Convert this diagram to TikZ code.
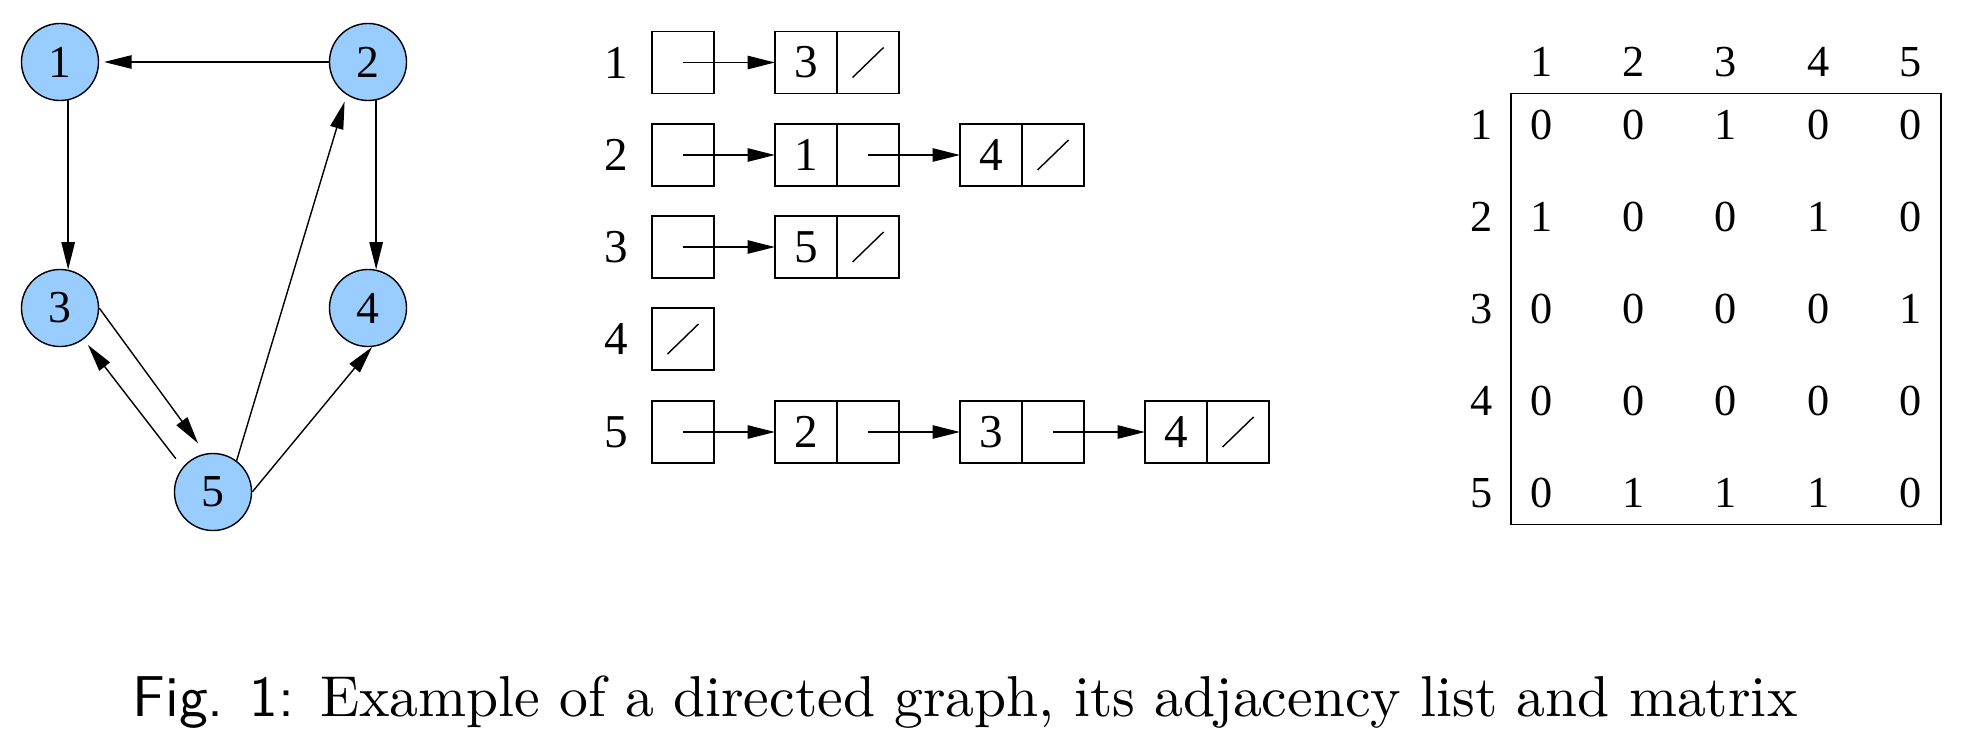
\documentclass[tikz,border=0pt]{standalone}
\usepackage{fontspec}
\usepackage{xcolor}
\usepackage{tikz}
\usetikzlibrary{arrows.meta,positioning,matrix}
\newfontfamily\timesfont{Liberation Serif}
\definecolor{nodeblue}{RGB}{153,204,255}
\newcommand{\graphfont}{\timesfont\fontsize{13pt}{15pt}\selectfont}
\newcommand{\listfont}{\timesfont\fontsize{13.4pt}{16pt}\selectfont}
\newcommand{\matfont}{\timesfont\fontsize{12.6pt}{15pt}\selectfont}

\begin{document}
\begin{tikzpicture}[x=0.01cm, y=-0.01cm, >={Triangle[length=7.8pt,width=3.8pt]},
	vertex/.style={circle, draw, fill=nodeblue, minimum size=0.77cm, inner sep=0pt, font=\graphfont},
	cell/.style={rectangle, draw, minimum width=0.62cm, minimum height=0.62cm, inner sep=0pt, outer sep=0pt, font=\listfont},
	nil/.style={cell, path picture={\draw ([shift={(-0.155cm,-0.15cm)}]path picture bounding box.center) -- ([shift={(0.155cm,0.15cm)}]path picture bounding box.center);}},
	link/.style={->},
	lbl/.style={inner sep=0pt, font=\listfont},
	entry/.style={minimum width=0.62cm, minimum height=0.62cm, inner sep=0pt, font=\matfont}]
	\useasboundingbox (0,0) rectangle (1964,736);
	% directed graph
	\node[vertex] (n1) at (60,62) {1};
	\node[vertex] (n2) at (368,62) {2};
	\node[vertex] (n3) at (60,308) {3};
	\node[vertex] (n4) at (368,308) {4};
	\node[vertex] (n5) at (213,492) {5};
	\draw[->, shorten >=1.4pt] (n2) -- (n1);
	\draw[->] (n1.-78) -- (n3.78);
	\draw[->] (n2.-78) -- (n4.78);
	\draw[->, shorten >=3.6pt] (n3.0) -- (n5.101);
	\draw[->, shorten <=3.1pt, shorten >=2pt] (n5.141) -- (n3.-53);
	\draw[->, shorten >=2pt] (n5.53) -- (n2.237);
	\draw[->] (n5.0) -- (n4.-84);
	% adjacency list
	\node[lbl] (l1) at (616,62.5) {1};
	\node[cell] (h1) at (683,62.5) {};
	\node[cell] (v13) at (806,62.5) {3};
	\node[nil, right=0pt of v13] (p13) {};
	\draw[link] (h1.center) -- (v13);
	\node[lbl] (l2) at (616,155) {2};
	\node[cell] (h2) at (683,155) {};
	\node[cell] (v21) at (806,155) {1};
	\node[cell, right=0pt of v21] (p21) {};
	\node[cell] (v24) at (991,155) {4};
	\node[nil, right=0pt of v24] (p24) {};
	\draw[link] (h2.center) -- (v21);
	\draw[link] (p21.center) -- (v24);
	\node[lbl] (l3) at (616,247) {3};
	\node[cell] (h3) at (683,247) {};
	\node[cell] (v35) at (806,247) {5};
	\node[nil, right=0pt of v35] (p35) {};
	\draw[link] (h3.center) -- (v35);
	\node[lbl] (l4) at (616,339) {4};
	\node[nil] (h4) at (683,339) {};
	\node[lbl] (l5) at (616,432) {5};
	\node[cell] (h5) at (683,432) {};
	\node[cell] (v52) at (806,432) {2};
	\node[cell, right=0pt of v52] (p52) {};
	\node[cell] (v53) at (991,432) {3};
	\node[cell, right=0pt of v53] (p53) {};
	\node[cell] (v54) at (1176,432) {4};
	\node[nil, right=0pt of v54] (p54) {};
	\draw[link] (h5.center) -- (v52);
	\draw[link] (p52.center) -- (v53);
	\draw[link] (p53.center) -- (v54);
	% adjacency matrix
	\matrix (adj) [matrix of nodes, draw, inner sep=0pt, column sep=0.3cm, row sep=0.3cm, nodes={entry}] at (1726,309) {
		0 & 0 & 1 & 0 & 0 \\
		1 & 0 & 0 & 1 & 0 \\
		0 & 0 & 0 & 0 & 1 \\
		0 & 0 & 0 & 0 & 0 \\
		0 & 1 & 1 & 1 & 0 \\
	};
	\foreach \c in {1,...,5}
		\node[entry] (c\c) at ([yshift=0.63cm]adj-1-\c) {\c};
	\foreach \r in {1,...,5}
		\node[entry] (r\r) at ([xshift=-0.6cm]adj-\r-1) {\r};
	% caption
	\node[anchor=base, inner sep=0pt, scale=1.64, transform shape] (caption) at (965,716) {\textsf{Fig. 1:} Example of a directed graph, its adjacency list and matrix};
\end{tikzpicture}
\end{document}
